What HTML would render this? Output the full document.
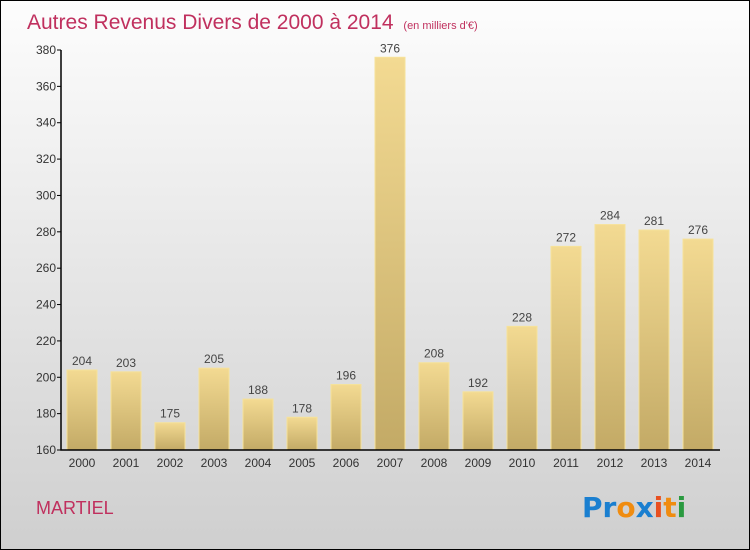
<!DOCTYPE html>
<html><head><meta charset="utf-8"><style>
body{margin:0}
#c{position:relative;width:750px;height:550px;box-sizing:border-box;border:1px solid #000;background:linear-gradient(#fdfdfd,#cfcfcf);font-family:"Liberation Sans",sans-serif;overflow:hidden}
</style></head><body>
<div id="c">
<svg id="s" width="750" height="550" style="position:absolute;left:-1px;top:-1px">
<defs><linearGradient id="g" x1="0" y1="0" x2="0" y2="1"><stop offset="0" stop-color="#f3da92"/><stop offset="1" stop-color="#c3aa66"/></linearGradient></defs>
<text x="27" y="29" font-size="21" fill="#c0305e">Autres Revenus Divers de 2000 à 2014 <tspan font-size="11" dx="4">(en milliers d'€)</tspan></text>
<text x="36" y="514" font-size="18" fill="#c0305e">MARTIEL</text>
<g font-size="28" font-weight="bold" font-family="'DejaVu Sans',sans-serif">
<text x="582" y="517"><tspan fill="#1a7fd0">Pr</tspan><tspan fill="#f08c10">o</tspan><tspan fill="#1a7fd0">x</tspan><tspan fill="#e85020">i</tspan><tspan fill="#f08c10">t</tspan><tspan fill="#2a9a40">i</tspan></text></g>
</svg>
</div>
<script>
const years=["2000","2001","2002","2003","2004","2005","2006","2007","2008","2009","2010","2011","2012","2013","2014"];
const values=[204,203,175,205,188,178,196,376,208,192,228,272,284,281,276];
const yTicks=[160,180,200,220,240,260,280,300,320,340,360,380];
const s=document.getElementById('s'),NS='http://www.w3.org/2000/svg';
const y=v=>450-(v-160)*400/220, x=i=>82+i*44;
function el(t,a,txt){const e=document.createElementNS(NS,t);for(const k in a)e.setAttribute(k,a[k]);if(txt!=null)e.textContent=txt;s.appendChild(e);return e;}
years.forEach((yr,i)=>{
 const b=el('rect',{x:x(i)-15,y:y(values[i]),width:30,height:450-y(values[i]),fill:'url(#g)',stroke:'#f6e29a','stroke-width':1});
 
 
 const l=el('text',{x:x(i),y:y(values[i])-5,'text-anchor':'middle','font-size':12,fill:'#444'},values[i]);
 
 
 const t=el('text',{x:x(i),y:467,'text-anchor':'middle','font-size':12,fill:'#333'},yr);
 
 
});
yTicks.forEach(v=>{
 el('line',{x1:57,x2:61,y1:y(v),y2:y(v),stroke:'#000'});
 const t=el('text',{x:56,y:y(v)+4,'text-anchor':'end','font-size':12,fill:'#333'},v);
 
 
});
const ax=el('path',{d:'M61,50V450H720',stroke:'#000','stroke-width':1.5,fill:'none'});


</script>
</body></html>
